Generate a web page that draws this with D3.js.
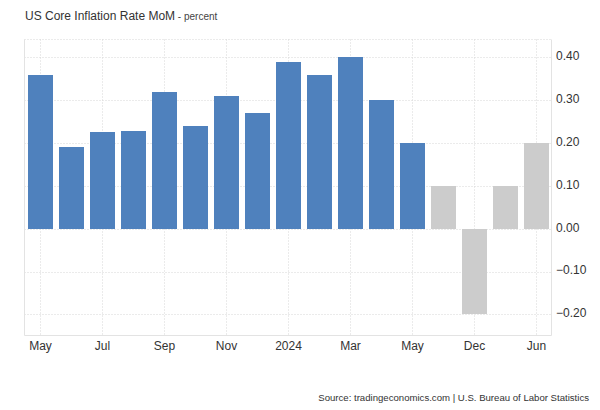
<!DOCTYPE html>
<html>
<head>
<meta charset="utf-8">
<script src="https://cdn.jsdelivr.net/npm/d3@7"></script>
<style>
  html, body { margin: 0; padding: 0; background: #fff; }
  svg { display: block; font-family: "Liberation Sans", Arial, sans-serif; }
</style>
</head>
<body>
<svg id="chart" width="600" height="410"></svg>
<script>
const categories = ["May 2023","Jun 2023","Jul 2023","Aug 2023","Sep 2023","Oct 2023","Nov 2023","Dec 2023",
  "Jan 2024","Feb 2024","Mar 2024","Apr 2024","May 2024","Sep 2024","Dec 2024","Mar 2025","Jun 2025"];
const actualValues = [0.36, 0.19, 0.225, 0.228, 0.32, 0.24, 0.31, 0.27, 0.39, 0.36, 0.40, 0.30, 0.20];
const forecastValues = [0.10, -0.20, 0.10, 0.20];
const xTickLabels = ["May","","Jul","","Sep","","Nov","","2024","","Mar","","May","","Dec","","Jun"];
const yTicks = [-0.20, -0.10, 0.00, 0.10, 0.20, 0.30, 0.40];

const actualColor = "#4f81bd";
const forecastColor = "#cccccc";

const svg = d3.select("#chart");
const pLeft = 24.5, pRight = 551.5, pTop = 39.5, pBottom = 335.5;

const values = actualValues.map((v, i) => ({cat: categories[i], v, f: false}))
  .concat(forecastValues.map((v, i) => ({cat: categories[actualValues.length + i], v, f: true})));

const x = d3.scaleBand().domain(categories).range([25, 552])
  .paddingInner(6 / 31).paddingOuter(3 / 31);
const y = d3.scaleLinear().domain([-0.248, 0.443]).range([335, 39]);

// Grid
const grid = svg.append("g");
yTicks.forEach(t => {
  grid.append("line").attr("x1", pLeft).attr("x2", pRight)
    .attr("y1", Math.round(y(t)) + 0.5).attr("y2", Math.round(y(t)) + 0.5)
    .attr("stroke", "#d6d6d6").attr("stroke-dasharray", "1,2");
});
categories.forEach((c, i) => {
  if (!xTickLabels[i]) return;
  const gx = Math.round(x(c) + x.bandwidth() / 2 - 1) + 0.5;
  grid.append("line").attr("x1", gx).attr("x2", gx).attr("y1", pTop).attr("y2", pBottom)
    .attr("stroke", "#d6d6d6").attr("stroke-dasharray", "1,2");
});
grid.append("line").attr("x1", pLeft).attr("x2", pRight).attr("y1", pTop).attr("y2", pTop)
  .attr("stroke", "#d6d6d6").attr("stroke-dasharray", "1,2");

// Bars
svg.append("g").selectAll("rect").data(values).join("rect")
  .attr("x", d => x(d.cat))
  .attr("width", x.bandwidth())
  .attr("y", d => Math.round(y(Math.max(0, d.v))))
  .attr("height", d => Math.abs(Math.round(y(d.v)) - Math.round(y(0))))
  .attr("fill", d => d.f ? forecastColor : actualColor);

// Frame lines
svg.append("line").attr("x1", pLeft).attr("x2", pLeft).attr("y1", pTop).attr("y2", pBottom).attr("stroke", "#e3e3e3");
svg.append("line").attr("x1", pLeft).attr("x2", pRight).attr("y1", pBottom).attr("y2", pBottom).attr("stroke", "#e3e3e3");
svg.append("line").attr("x1", pRight).attr("x2", pRight).attr("y1", pTop).attr("y2", pBottom).attr("stroke", "#e3e3e3");

// Right axis labels
const yAxis = d3.axisRight(y).tickValues(yTicks).tickFormat(d3.format(".2f")).tickSize(0).tickPadding(0);
const ya = svg.append("g").attr("transform", "translate(556,-1.5)").call(yAxis);
ya.select(".domain").remove();
ya.selectAll("text").attr("font-size", 12).attr("fill", "#333").attr("font-family", "Liberation Sans, Arial, sans-serif");

// Bottom axis labels
const xAxis = d3.axisBottom(x).tickValues(categories.filter((c, i) => xTickLabels[i]))
  .tickFormat(c => xTickLabels[categories.indexOf(c)]).tickSize(0).tickPadding(0);
const xa = svg.append("g").attr("transform", "translate(0,341.5)").call(xAxis);
xa.select(".domain").remove();
xa.selectAll("text").attr("font-size", 12).attr("fill", "#333").attr("font-family", "Liberation Sans, Arial, sans-serif");

// Title
const title = svg.append("text").attr("x", 25).attr("y", 20).attr("font-size", 12).attr("fill", "#333");
title.append("tspan").text("US Core Inflation Rate MoM");
title.append("tspan").attr("font-size", 10).attr("fill", "#444").text(" - percent");

// Source
svg.append("text").attr("x", 589).attr("y", 401).attr("text-anchor", "end")
  .attr("font-size", 9.6).attr("fill", "#333")
  .text("Source: tradingeconomics.com | U.S. Bureau of Labor Statistics");
</script>
</body>
</html>
